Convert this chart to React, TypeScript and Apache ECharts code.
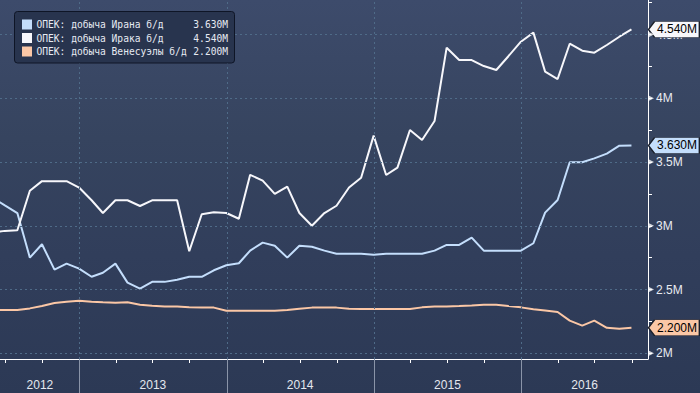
import React, { useEffect, useRef } from 'react';
import * as echarts from 'echarts';

// Month-end dates of the observations
const months = [
  '2012-05-31', '2012-06-30', '2012-07-31', '2012-08-31', '2012-09-30', '2012-10-31', '2012-11-30', '2012-12-31',
  '2013-01-31', '2013-02-28', '2013-03-31', '2013-04-30', '2013-05-31', '2013-06-30', '2013-07-31', '2013-08-31', '2013-09-30', '2013-10-31', '2013-11-30', '2013-12-31',
  '2014-01-31', '2014-02-28', '2014-03-31', '2014-04-30', '2014-05-31', '2014-06-30', '2014-07-31', '2014-08-31', '2014-09-30', '2014-10-31', '2014-11-30', '2014-12-31',
  '2015-01-31', '2015-02-28', '2015-03-31', '2015-04-30', '2015-05-31', '2015-06-30', '2015-07-31', '2015-08-31', '2015-09-30', '2015-10-31', '2015-11-30', '2015-12-31',
  '2016-01-31', '2016-02-29', '2016-03-31', '2016-04-30', '2016-05-31', '2016-06-30', '2016-07-31', '2016-08-31', '2016-09-30',
];

// Million barrels per day
const iran = [
  3.22, 3.16, 3.10, 2.75, 2.855, 2.656, 2.703, 2.664,
  2.60, 2.632, 2.703, 2.554, 2.507, 2.56, 2.56, 2.577, 2.60, 2.60, 2.651, 2.69,
  2.706, 2.805, 2.868, 2.844, 2.75, 2.844, 2.836, 2.805, 2.78, 2.78, 2.78, 2.773,
  2.78, 2.78, 2.78, 2.78, 2.805, 2.85, 2.85, 2.907, 2.805, 2.805, 2.805, 2.805,
  2.863, 3.103, 3.202, 3.498, 3.498, 3.529, 3.566, 3.628, 3.63,
];
const iraq = [
  2.95, 2.96, 2.965, 3.275, 3.35, 3.35, 3.35, 3.30,
  3.20, 3.10, 3.20, 3.20, 3.155, 3.20, 3.20, 3.20, 2.80, 3.09, 3.106, 3.10,
  3.055, 3.40, 3.354, 3.25, 3.307, 3.10, 3.00, 3.10, 3.157, 3.30, 3.377, 3.707,
  3.398, 3.456, 3.751, 3.673, 3.822, 4.397, 4.30, 4.30, 4.253, 4.222, 4.33, 4.444,
  4.515, 4.209, 4.151, 4.428, 4.373, 4.358, 4.418, 4.483, 4.54,
];
const venezuela = [
  2.34, 2.34, 2.34, 2.352, 2.37, 2.395, 2.405, 2.412,
  2.405, 2.40, 2.397, 2.40, 2.38, 2.372, 2.366, 2.366, 2.36, 2.358, 2.358, 2.334,
  2.334, 2.334, 2.334, 2.334, 2.34, 2.35, 2.358, 2.358, 2.358, 2.35, 2.347, 2.347,
  2.347, 2.347, 2.347, 2.36, 2.366, 2.366, 2.37, 2.375, 2.38, 2.381, 2.37, 2.36,
  2.345, 2.335, 2.324, 2.256, 2.217, 2.256, 2.20, 2.193, 2.20,
];

const seriesNames = ['ОПЕК: добыча Ирана б/д', 'ОПЕК: добыча Ирака б/д', 'ОПЕК: добыча Венесуэлы б/д'];
const seriesColors = ['#c4defc', '#f7f7fb', '#fbc7a6'];

const xRange = ['2012-06-18', '2016-11-10'];
const quarterTicks = [
  '2012-07-01', '2012-10-01',
  '2013-01-01', '2013-04-01', '2013-07-01', '2013-10-01',
  '2014-01-01', '2014-04-01', '2014-07-01', '2014-10-01',
  '2015-01-01', '2015-04-01', '2015-07-01', '2015-10-01',
  '2016-01-01', '2016-04-01', '2016-07-01', '2016-10-01',
];
const yearBounds = ['2013-01-01', '2014-01-01', '2015-01-01', '2016-01-01'];
const yearLabelDates = ['2012-09-25', '2013-07-02', '2014-07-02', '2015-07-02', '2016-06-06'];

const yRange = [1.955, 4.771];
const yLabels = [2, 2.5, 3, 3.5, 4, 4.5];
const yTicks = [2, 2.25, 2.5, 2.75, 3, 3.25, 3.5, 3.75, 4, 4.25, 4.5, 4.75];

const ts = (d: string) => Date.parse(d + 'T00:00:00Z');

const AXIS_FONT = '"Liberation Sans", Arial, sans-serif';
const MONO_FONT = '"DejaVu Sans Mono", "Liberation Mono", monospace';

export default function App() {
  const ref = useRef<HTMLDivElement>(null);

  useEffect(() => {
    const chart = echarts.init(ref.current!, null, { renderer: 'svg' });
    const xMin = ts(xRange[0]);
    const xMax = ts(xRange[1]);
    const times = months.map(ts);
    const allSeries = [iran, iraq, venezuela];
    const lastVals = allSeries.map((s) => s[s.length - 1]);

    const legendRows = [24.5, 38, 51.5];
    const graphic: any[] = [
      {
        type: 'rect',
        shape: { x: 14.5, y: 11.5, width: 220, height: 51.5, r: 3 },
        style: { fill: '#28344e', stroke: '#0e1526', lineWidth: 1 },
        z: 100,
      },
    ];
    seriesNames.forEach((name, i) => {
      const cy = legendRows[i];
      graphic.push({
        type: 'rect',
        shape: { x: 22, y: cy - 5, width: 10, height: 10 },
        style: { fill: seriesColors[i] },
        z: 101,
      });
      graphic.push({
        type: 'text',
        x: 36.5,
        y: cy,
        style: {
          text: name,
          fill: '#e6eaf2',
          font: `9.6px ${MONO_FONT}`,
          verticalAlign: 'middle',
          align: 'left',
        },
        z: 101,
      });
      graphic.push({
        type: 'text',
        x: 228,
        y: cy,
        style: {
          text: lastVals[i].toFixed(3) + 'M',
          fill: '#e6eaf2',
          font: `9.6px ${MONO_FONT}`,
          verticalAlign: 'middle',
          align: 'right',
        },
        z: 101,
      });
    });

    const option: any = {
      animation: false,
      backgroundColor: 'transparent',
      grid: { left: 0, right: 52, top: 0, bottom: 34, containLabel: false },
      xAxis: [
        {
          type: 'value',
          min: xMin,
          max: xMax,
          position: 'bottom',
          axisLine: { show: true, lineStyle: { color: '#ffffff', width: 1 } },
          axisTick: {
            show: true,
            customValues: quarterTicks.map(ts),
            length: 4,
            lineStyle: { color: '#ffffff', width: 1 },
          },
          axisLabel: { show: false },
          splitLine: { show: false },
        },
        {
          type: 'value',
          min: xMin,
          max: xMax,
          position: 'bottom',
          axisLine: { show: false },
          axisTick: {
            show: true,
            customValues: yearBounds.map(ts),
            length: 34,
            lineStyle: { color: '#8a94a8', width: 1 },
          },
          axisLabel: {
            show: true,
            customValues: yearLabelDates.map(ts),
            formatter: (v: number) => String(new Date(v).getUTCFullYear()),
            color: '#e4e8ef',
            fontSize: 12,
            fontFamily: AXIS_FONT,
            margin: 20,
            hideOverlap: false,
          },
          splitLine: { show: false },
        },
      ],
      yAxis: [
        {
          type: 'value',
          position: 'right',
          min: yRange[0],
          max: yRange[1],
          axisLine: { show: true, lineStyle: { color: '#ffffff', width: 1 } },
          axisTick: {
            show: true,
            customValues: yTicks,
            length: 4,
            lineStyle: { color: '#ffffff', width: 1 },
          },
          axisLabel: {
            show: true,
            customValues: yLabels,
            formatter: (v: number) => v + 'M',
            color: '#e8ebf1',
            fontSize: 12,
            fontFamily: AXIS_FONT,
            margin: 8,
          },
          splitLine: { show: false },
        },
      ],
      graphic,
      series: [
        {
          type: 'line',
          name: 'grid',
          data: [],
          silent: true,
          z: 1,
          markLine: {
            silent: true,
            symbol: ['none', 'none'],
            label: { show: false },
            emphasis: { disabled: true },
            lineStyle: { color: '#4f6b88', type: [2, 3], width: 1 },
            data: [
              ...yLabels.map((v) => ({ yAxis: v })),
              ...yearBounds.map((d) => ({ xAxis: ts(d) })),
            ],
          },
        },
        ...allSeries.map((s, i) => ({
          type: 'line',
          name: seriesNames[i],
          data: s.map((v, j) => [times[j], v]),
          showSymbol: false,
          symbol: 'none',
          clip: false,
          silent: true,
          z: 3,
          lineStyle: { color: seriesColors[i], width: 2 },
        })),
        {
          type: 'scatter',
          name: 'markers',
          data: yLabels.map((v) => [xMax, v]),
          symbol: 'triangle',
          symbolSize: 6,
          symbolRotate: -90,
          symbolOffset: [3, 0],
          itemStyle: { color: '#ffffff' },
          clip: false,
          silent: true,
          z: 5,
          markPoint: {
            silent: true,
            symbol: 'path://M0,8L6,0L50,0L50,16L6,16Z',
            symbolSize: [51, 16],
            symbolOffset: [26, 0],
            label: {
              show: true,
              position: 'inside',
              color: '#000000',
              fontSize: 12,
              fontFamily: AXIS_FONT,
              offset: [3, 0],
              formatter: (p: any) => Number(p.value).toFixed(3) + 'M',
            },
            data: lastVals.map((v, i) => ({
              coord: [xMax, v],
              value: v,
              itemStyle: { color: seriesColors[i], borderColor: '#1a1f2a', borderWidth: 1 },
            })),
          },
        },
      ],
    };

    chart.setOption(option);
    return () => chart.dispose();
  }, []);

  return (
    <div
      ref={ref}
      style={{
        position: 'fixed',
        left: 0,
        top: 0,
        width: 700,
        height: 393,
        background: 'linear-gradient(180deg, #3d4b6b 0%, #36445f 35%, #313e5b 65%, #2c3955 100%)',
      }}
    />
  );
}
